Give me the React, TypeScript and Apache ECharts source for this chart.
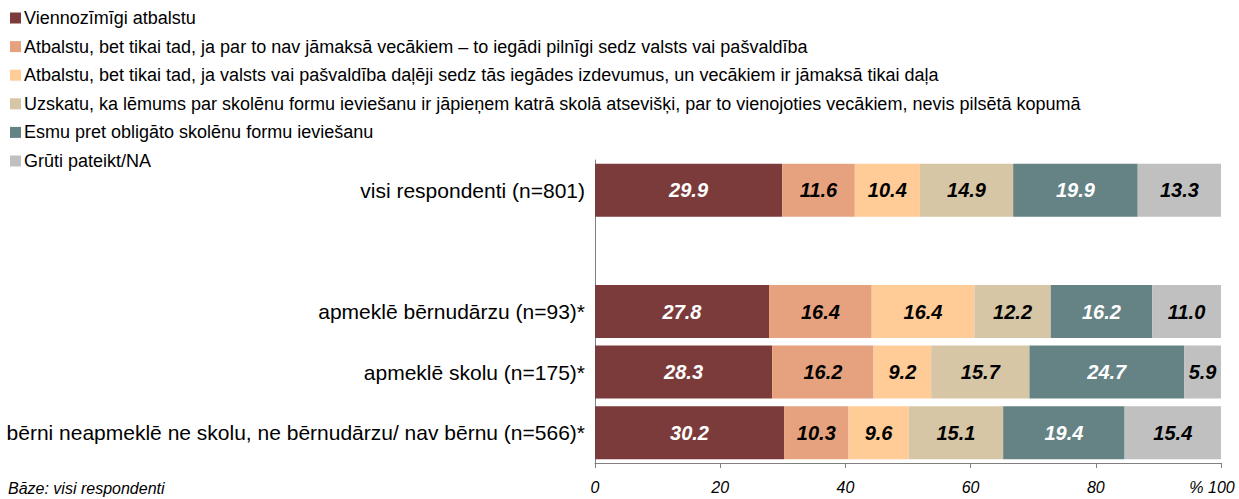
import React, { useEffect, useRef } from "react";
import * as echarts from "echarts";

const categories = [
  "visi respondenti (n=801)",
  "",
  "apmeklē bērnudārzu (n=93)*",
  "apmeklē skolu (n=175)*",
  "bērni neapmeklē ne skolu, ne bērnudārzu/ nav bērnu (n=566)*",
];

const seriesNames = [
  "Viennozīmīgi atbalstu",
  "Atbalstu, bet tikai tad, ja par to nav jāmaksā vecākiem – to iegādi pilnīgi sedz valsts vai pašvaldība",
  "Atbalstu, bet tikai tad, ja valsts vai pašvaldība daļēji sedz tās iegādes izdevumus, un vecākiem ir jāmaksā tikai daļa",
  "Uzskatu, ka lēmums par skolēnu formu ieviešanu ir jāpieņem katrā skolā atsevišķi, par to vienojoties vecākiem, nevis pilsētā kopumā",
  "Esmu pret obligāto skolēnu formu ieviešanu",
  "Grūti pateikt/NA",
];

const viennozimigi = [29.9, null, 27.8, 28.3, 30.2];
const pilnigiSedz = [11.6, null, 16.4, 16.2, 10.3];
const dalejiSedz = [10.4, null, 16.4, 9.2, 9.6];
const katraSkola = [14.9, null, 12.2, 15.7, 15.1];
const pret = [19.9, null, 16.2, 24.7, 19.4];
const gruti = [13.3, null, 11.0, 5.9, 15.4];

const xTicks = [0, 20, 40, 60, 80, 100];

const colors = ["#7B3B3B", "#E6A27E", "#FFCB96", "#D7C6A5", "#658384", "#C0C0C0"];
const labelColors = ["#FFFFFF", "#000000", "#000000", "#000000", "#FFFFFF", "#000000"];

const FONT = "'Liberation Sans', Arial, sans-serif";

export default function App() {
  const ref = useRef<HTMLDivElement>(null);
  useEffect(() => {
    document.body.style.margin = "0";
    if (!ref.current) return;
    const chart = echarts.init(ref.current, undefined, { renderer: "svg" });
    const data = [viennozimigi, pilnigiSedz, dalejiSedz, katraSkola, pret, gruti];
    chart.setOption({
      animation: false,
      textStyle: { fontFamily: FONT },
      legend: {
        orient: "vertical",
        left: 5,
        top: 4,
        itemWidth: 11,
        itemHeight: 11,
        itemGap: 10.6,
        icon: "rect",
        selectedMode: false,
        data: seriesNames,
        textStyle: { fontFamily: FONT, fontSize: 18, color: "#000", lineHeight: 16, padding: [0, 0, 0, -2] },
      },
      grid: { left: 595, right: 18, top: 160, bottom: 36, outerBoundsMode: "none", containLabel: false },
      xAxis: {
        type: "value",
        min: 0,
        max: 100,
        interval: 20,
        splitLine: { show: false },
        axisLine: { show: true, lineStyle: { color: "#808080", width: 1 } },
        axisTick: { show: true, length: 5, lineStyle: { color: "#808080" } },
        axisLabel: {
          margin: 16,
          fontFamily: FONT,
          fontSize: 16,
          fontStyle: "italic",
          color: "#000",
          formatter: (v: number) => (v === xTicks[xTicks.length - 1] ? "{a|% " + v + "}{c|}" : String(v)),
          rich: {
            a: { fontFamily: FONT, fontSize: 16, fontStyle: "italic", color: "#000" },
            c: { width: 18 },
          },
        },
      },
      yAxis: {
        type: "category",
        inverse: true,
        data: categories,
        axisLine: { show: true, lineStyle: { color: "#808080", width: 1 } },
        axisTick: { show: false },
        axisLabel: { margin: 10, fontFamily: FONT, fontSize: 21, color: "#000" },
      },
      series: seriesNames.map((name, i) => ({
        name,
        type: "bar",
        stack: "total",
        barWidth: 53,
        itemStyle: { color: colors[i] },
        label: {
          show: true,
          position: "inside",
          fontFamily: FONT,
          fontSize: 20,
          fontWeight: "bold",
          fontStyle: "italic",
          color: labelColors[i],
          formatter: (p: any) => (p.value == null ? "" : Number(p.value).toFixed(1)),
        },
        data: data[i],
      })),
      graphic: [
        {
          type: "text",
          left: 8,
          top: 480,
          style: { text: "Bāze: visi respondenti", fontFamily: FONT, fontSize: 16, fontStyle: "italic", fill: "#000" },
        },
      ],
    });
    return () => chart.dispose();
  }, []);
  return <div ref={ref} style={{ width: 1239, height: 499 }} />;
}
